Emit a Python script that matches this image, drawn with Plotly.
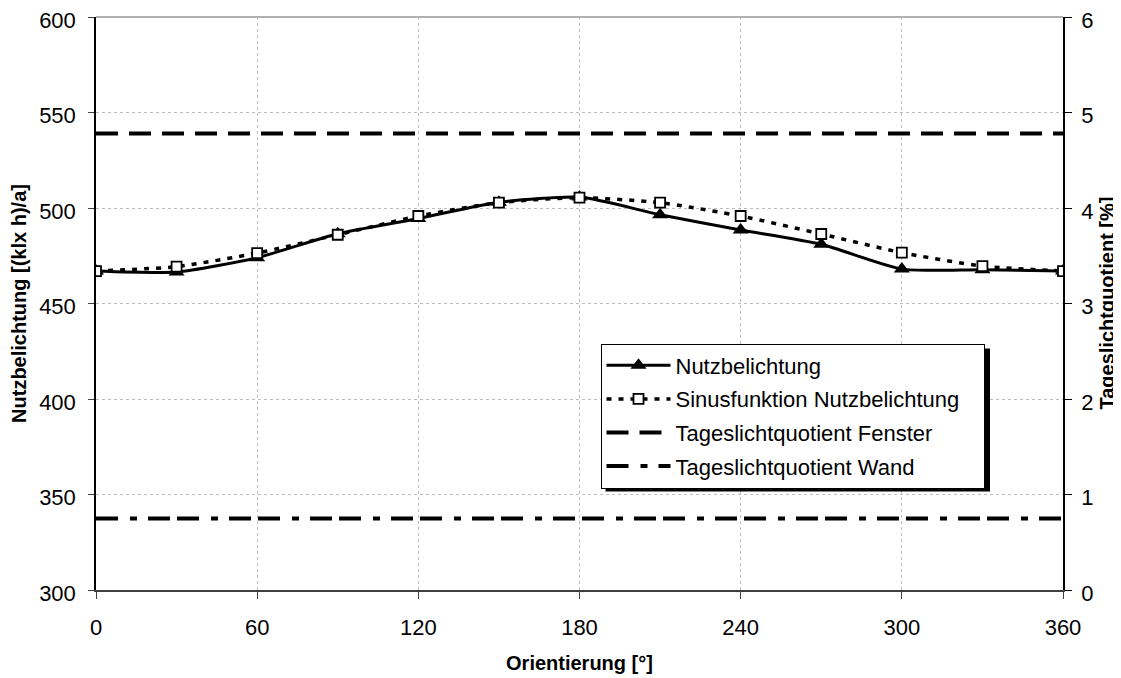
import plotly.graph_objects as go

# ---- data ----
orientation = [0, 30, 60, 90, 120, 150, 180, 210, 240, 270, 300, 330, 360]
nutzbelichtung = [467, 466.5, 474, 486.5, 494.5, 503, 505.7, 496.5, 488.5, 481, 468, 467.7, 467]
sinus_nutz = [467, 469.3, 476.4, 486, 495.8, 502.8, 505.4, 502.8, 495.8, 486.4, 476.6, 469.6, 467]
tq_x = [0, 360]
tq_fenster = [4.78, 4.78]
tq_wand = [0.75, 0.75]
x_ticks = [0, 60, 120, 180, 240, 300, 360]
y_ticks = [300, 350, 400, 450, 500, 550, 600]
y2_ticks = [0, 1, 2, 3, 4, 5, 6]

FONT = "Liberation Sans, Arial, sans-serif"
fig = go.Figure()

fig.add_trace(go.Scatter(
    x=orientation, y=nutzbelichtung, name="Nutzbelichtung", legendgroup="a",
    mode="lines+markers", line=dict(color="black", width=3, shape="spline", smoothing=0.6),
    marker=dict(symbol="triangle-up", size=14, color="black"),
))
fig.add_trace(go.Scatter(
    x=orientation, y=sinus_nutz, name="Sinusfunktion Nutzbelichtung\u00a0\u00a0\u00a0", legendgroup="b",
    mode="lines+markers", line=dict(color="black", width=3.5, dash="5px,7px", shape="spline", smoothing=0.6),
    marker=dict(symbol="square", size=10, color="white", line=dict(color="black", width=1.8)),
))
fig.add_trace(go.Scatter(
    x=tq_x, y=tq_fenster, name="Tageslichtquotient Fenster", legendgroup="c", yaxis="y2",
    mode="lines", line=dict(color="black", width=4, dash="22px,11px"),
))
fig.add_trace(go.Scatter(
    x=tq_x, y=tq_wand, name="Tageslichtquotient Wand", legendgroup="d", yaxis="y2",
    mode="lines", line=dict(color="black", width=4, dash="22px,12px,7px,11px,22px,7px"),
))

# page is offset by the 8px body margin -> work in figure coordinates
OFF = 8
FW, FH = 1121 - OFF, 678 - OFF
L, R, T, B = 96 - OFF, 1063 - OFF, 17 - OFF, 590 - OFF
W, H = R - L, B - T
lx0, lx1 = 600.5 - OFF, 985 - OFF
ly0 = 343.5 - OFF
lh = 143
ly1 = ly0 + lh
sh = 5
fig.add_shape(type="rect", xref="paper", yref="paper",
              x0=(lx0 + sh - L) / W, x1=(lx1 + sh - L) / W,
              y0=(B - (ly1 + sh)) / H, y1=(B - (ly0 + sh)) / H,
              fillcolor="black", line=dict(width=0), layer="above")

fig.update_layout(
    width=FW, height=FH,
    margin=dict(l=L, r=FW - R, t=T, b=FH - B, pad=0, autoexpand=False),
    paper_bgcolor="white", plot_bgcolor="white",
    font=dict(family=FONT, size=22, color="black"),
    showlegend=True,
    legend=dict(x=(lx0 - L) / W, y=(B - ly0) / H, xanchor="left", yanchor="top",
                bgcolor="white", bordercolor="black", borderwidth=1,
                font=dict(family=FONT, size=22), itemwidth=64,
                tracegroupgap=2, traceorder="grouped"),
    xaxis=dict(range=[0, 360], tickvals=x_ticks, ticks="outside", ticklen=7,
               tickcolor="#404040", showline=True, linecolor="#404040", linewidth=2,
               mirror=False, showgrid=True, gridcolor="#bdbdbd", griddash="dot",
               zeroline=False, ticklabelstandoff=10, automargin=False,
               ticklabeloverflow="allow",
               title=dict(text="<b>Orientierung [°]</b>", font=dict(size=20), standoff=17)),
    yaxis=dict(range=[300, 600], tickvals=y_ticks, ticks="outside", ticklen=6,
               tickcolor="#404040", showline=True, linecolor="black", linewidth=1.5,
               showgrid=True, gridcolor="#bdbdbd", griddash="dot", zeroline=False,
               ticklabelstandoff=8, automargin=False, ticklabeloverflow="allow",
               ticklabelshift=3,
               title=dict(text="<b>Nutzbelichtung [(klx h)/a]</b>", font=dict(size=20), standoff=8)),
    yaxis2=dict(range=[0, 6], tickvals=y2_ticks, overlaying="y", side="right",
                ticks="outside", ticklen=7, tickcolor="black", showline=True,
                linecolor="black", linewidth=1.5, showgrid=False, zeroline=False,
                ticklabelstandoff=5, automargin=False, ticklabeloverflow="allow",
                ticklabelshift=3),
    annotations=[dict(text="<b>Tageslichtquotient [%]</b>", textangle=-90,
                      xref="paper", yref="paper", x=(1106 - OFF - L) / W, y=0.5,
                      xanchor="center", yanchor="middle", showarrow=False,
                      font=dict(family=FONT, size=20, color="black"))],
)
fig.add_shape(type="line", xref="paper", yref="paper", x0=0, x1=1, y0=1, y1=1,
              line=dict(color="#606060", width=1), layer="below")

fig.write_html("out.html")
